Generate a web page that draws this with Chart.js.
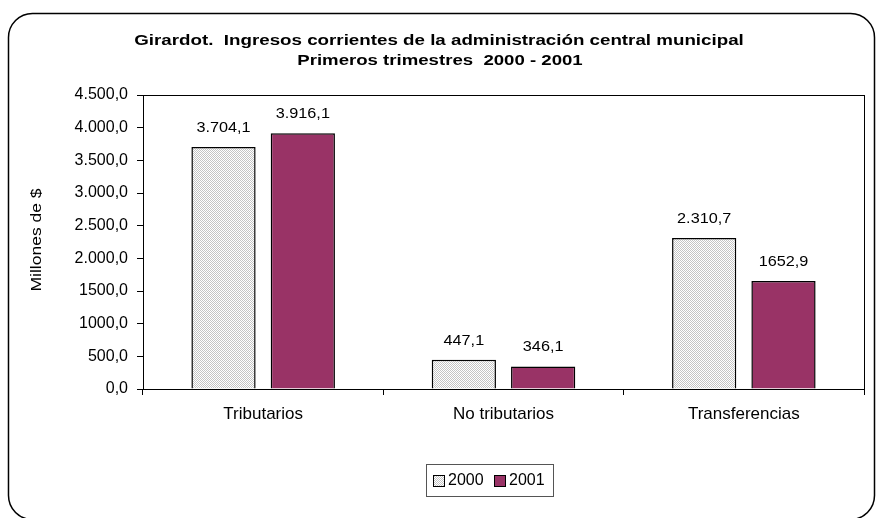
<!DOCTYPE html>
<html>
<head>
<meta charset="utf-8">
<script src="https://cdn.jsdelivr.net/npm/chart.js@4"></script>
<style>
  html, body { margin: 0; padding: 0; background: #fff; }
  #wrap { width: 876px; height: 518px; }
</style>
</head>
<body>
<div id="wrap"><canvas id="chart" width="876" height="518"></canvas></div>
<script>
const categories = ['Tributarios', 'No tributarios', 'Transferencias']
const years = ['2000', '2001']
const values2000 = [3704.1, 447.1, 2310.7]
const values2001 = [3916.1, 346.1, 1652.9]
const labels2000 = ['3.704,1', '447,1', '2.310,7']
const labels2001 = ['3.916,1', '346,1', '1652,9']
const yTicks = ['0,0', '500,0', '1000,0', '1500,0', '2.000,0', '2.500,0', '3.000,0', '3.500,0', '4.000,0', '4.500,0']
const titleLines = ['Girardot.  Ingresos corrientes de la administración central municipal', 'Primeros trimestres  2000 - 2001']
const yTitle = 'Millones de $'

const FONT = '"Liberation Sans", Arial, sans-serif'

// fine gray stipple like the excel fill
function stipple() {
  const c = document.createElement('canvas')
  c.width = 2; c.height = 2
  const g = c.getContext('2d')
  g.fillStyle = '#ffffff'
  g.fillRect(0, 0, 2, 2)
  g.fillStyle = '#c4c4c4'
  g.fillRect(0, 0, 1, 1)
  g.fillRect(1, 1, 1, 1)
  return g.createPattern(c, 'repeat')
}

// text stretched sideways, the old excel export looks like that
function wideText(ctx, txt, x, y, sx) {
  ctx.save()
  ctx.translate(x, y)
  ctx.scale(sx, 1)
  ctx.fillText(txt, 0, 0)
  ctx.restore()
}

const decor = {
  id: 'decor',
  beforeDraw(chart) {
    const ctx = chart.ctx
    ctx.save()
    ctx.fillStyle = '#fff'
    ctx.fillRect(0, 0, chart.width, chart.height)
    // rounded outer frame
    ctx.strokeStyle = '#000'
    ctx.lineWidth = 1.5
    ctx.beginPath()
    ctx.roundRect(8.5, 13.5, 866, 506, 24)
    ctx.stroke()
    // title
    ctx.fillStyle = '#000'
    ctx.font = 'bold 15px ' + FONT
    ctx.textAlign = 'center'
    ctx.textBaseline = 'middle'
    wideText(ctx, titleLines[0], 439, 41, 1.25)
    wideText(ctx, titleLines[1], 440, 61, 1.24)
    // y axis title
    ctx.font = '14px ' + FONT
    ctx.save()
    ctx.translate(37, 240)
    ctx.rotate(-Math.PI / 2)
    wideText(ctx, yTitle, 0, 0, 1.25)
    ctx.restore()
    ctx.restore()
  },
  afterDraw(chart) {
    const ctx = chart.ctx
    const a = chart.chartArea
    ctx.save()
    ctx.strokeStyle = '#000'
    ctx.lineWidth = 1
    ctx.strokeRect(Math.round(a.left) + 0.5, Math.round(a.top) + 0.5, Math.round(a.right - a.left), Math.round(a.bottom - a.top))
    // value labels
    ctx.fillStyle = '#000'
    ctx.font = '14px ' + FONT
    ctx.textAlign = 'center'
    ctx.textBaseline = 'middle'
    const lbls = [labels2000, labels2001]
    chart.data.datasets.forEach((ds, i) => {
      chart.getDatasetMeta(i).data.forEach((bar, j) => {
        wideText(ctx, lbls[i][j], bar.x, bar.y - 19, 1.16)
      })
    })
    // legend
    ctx.strokeStyle = '#555'
    ctx.strokeRect(426.5, 464.5, 127, 32)
    ctx.font = '16px ' + FONT
    ctx.textAlign = 'left'
    const xs = [433, 494]
    chart.data.datasets.forEach((ds, i) => {
      ctx.fillStyle = ds.backgroundColor
      ctx.fillRect(xs[i] + 0.5, 475.5, 11, 11)
      ctx.strokeStyle = '#000'
      ctx.strokeRect(xs[i] + 0.5, 475.5, 11, 11)
      ctx.fillStyle = '#000'
      ctx.fillText(ds.label, xs[i] + 15, 481)
    })
    ctx.restore()
  }
}

new Chart(document.getElementById('chart'), {
  type: 'bar',
  data: {
    labels: categories,
    datasets: [
      { label: years[0], data: values2000, backgroundColor: stipple(), borderColor: '#000', borderWidth: 1.5 },
      { label: years[1], data: values2001, backgroundColor: '#993366', borderColor: '#000', borderWidth: 1.5 }
    ]
  },
  options: {
    responsive: false,
    animation: false,
    layout: { padding: { top: 95, left: 0, right: 12, bottom: 99 } },
    datasets: { bar: { categoryPercentage: 0.66, barPercentage: 0.81 } },
    plugins: { legend: { display: false }, title: { display: false }, tooltip: { enabled: false } },
    scales: {
      x: {
        afterFit: s => { s.height = 30 },
        grid: { offset: true, drawOnChartArea: false, drawTicks: true, tickLength: 6, color: '#000' },
        border: { color: '#000' },
        ticks: { color: '#000', font: { family: FONT, size: 17 }, padding: 9 }
      },
      y: {
        min: 0, max: 4500,
        afterFit: s => { s.width = 143 },
        grid: { drawOnChartArea: false, drawTicks: true, tickLength: 6, color: '#000' },
        border: { color: '#000' },
        ticks: {
          stepSize: 500, color: '#000', padding: 9,
          font: { family: FONT, size: 16 },
          callback: (v, i) => yTicks[i]
        }
      }
    }
  },
  plugins: [decor]
})
</script>
</body>
</html>
